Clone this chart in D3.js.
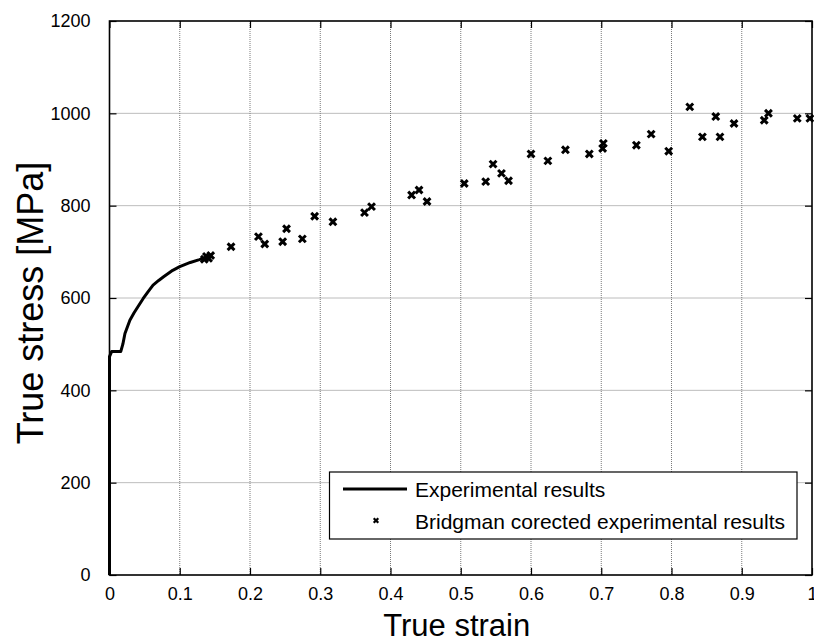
<!DOCTYPE html>
<html><head><meta charset="utf-8">
<script src="https://cdn.jsdelivr.net/npm/d3@7"></script>
<style>body{margin:0;background:#fff}svg{display:block}text{font-family:"Liberation Sans",Arial,sans-serif;fill:#000}</style>
</head><body><svg id="c" width="814" height="642"></svg>
<script>
const xTicks=[0,0.1,0.2,0.3,0.4,0.5,0.6,0.7,0.8,0.9,1];
const yTicks=[0,200,400,600,800,1000,1200];
const curveStrain=[0,0,0.003,0.016,0.019,0.022,0.029,0.035,0.040,0.048,0.055,0.062,0.070,0.077,0.090,0.100,0.115,0.128,0.134,0.140];
const curveStress=[0,473,484,484,500,523,552,568,580,599,614,628,638,646,660,668,677,683,686,690];
const ptStrain=[0.135,0.138,0.141,0.144,0.173,0.212,0.221,0.2465,0.252,0.2745,0.292,0.318,0.363,0.373,0.430,0.4406,0.452,0.505,0.5355,0.546,0.558,0.568,0.600,0.624,0.649,0.683,0.702,0.703,0.750,0.771,0.796,0.826,0.844,0.863,0.869,0.889,0.932,0.938,0.979,0.997];
const ptStress=[684,690,686,692,711,733,717,722,750,728,777,765,785,798,823,834,809,848,852,890,870,854,912,897,921,912,924,935,931,955,918,1014,949,993,949,978,985,1000,989,989];

const svg=d3.select("#c");
const L=109.5,R=812,T=21,B=575;
const x=d3.scaleLinear().domain([0,1]).range([L,R]);
const y=d3.scaleLinear().domain([0,1200]).range([B,T]);
const FF="Liberation Sans, Arial, sans-serif";

// grid
const g=svg.append("g");
g.selectAll(".gx").data(xTicks.slice(1,-1)).join("line").attr("x1",d=>x(d)).attr("x2",d=>x(d)).attr("y1",T).attr("y2",B)
 .attr("stroke","#7a7a7a").attr("stroke-dasharray","1,1").attr("stroke-width",1);
g.selectAll(".gy").data(yTicks.slice(1,-1)).join("line").attr("y1",d=>y(d)).attr("y2",d=>y(d)).attr("x1",L).attr("x2",R)
 .attr("stroke","#7a7a7a").attr("stroke-dasharray","1,1").attr("stroke-width",1);

// axes (inward ticks, MATLAB style)
const tl=7;
const ax=svg.append("g");
ax.append("g").attr("transform",`translate(0,${B})`).call(d3.axisBottom(x).tickValues(xTicks).tickFormat(d3.format("~g")).tickSize(-tl).tickPadding(12))
 .call(s=>{s.select(".domain").remove();s.selectAll("text").attr("font-size",18).attr("font-family",FF);});
ax.append("g").attr("transform",`translate(0,${T})`).call(d3.axisTop(x).tickValues(xTicks).tickFormat("").tickSize(-tl))
 .call(s=>s.select(".domain").remove());
ax.append("g").attr("transform",`translate(${L},0)`).call(d3.axisLeft(y).tickValues(yTicks).tickFormat(d3.format("d")).tickSize(-tl).tickPadding(19))
 .call(s=>{s.select(".domain").remove();s.selectAll("text").attr("font-size",18).attr("font-family",FF);});
ax.append("g").attr("transform",`translate(${R},0)`).call(d3.axisRight(y).tickValues(yTicks).tickFormat("").tickSize(-tl))
 .call(s=>s.select(".domain").remove());
ax.selectAll(".tick line").attr("stroke","#000").attr("stroke-width",1.2);
svg.append("rect").attr("x",L).attr("y",T).attr("width",R-L).attr("height",B-T).attr("fill","none").attr("stroke","#000").attr("stroke-width",1.6);

// curve
const curve=curveStrain.map((s,i)=>[s,curveStress[i]]);
svg.append("path").datum(curve).attr("d",d3.line().x(d=>x(d[0])).y(d=>y(d[1]))).attr("fill","none").attr("stroke","#000").attr("stroke-width",3).attr("stroke-linejoin","round");

// markers
const pts=ptStrain.map((s,i)=>[s,ptStress[i]]);
function xmark(sel,r,w){sel.append("path").attr("d",`M${-r},${-r}L${r},${r}M${-r},${r}L${r},${-r}`).attr("stroke","#000").attr("stroke-width",w).attr("fill","none");}
svg.append("g").selectAll("g").data(pts).join("g").attr("transform",d=>`translate(${x(d[0])},${y(d[1])})`).each(function(){xmark(d3.select(this),3.4,3);});

// legend
const lg=svg.append("g");
lg.append("rect").attr("x",329.5).attr("y",472).attr("width",467.5).attr("height",67).attr("fill","#fff").attr("stroke","#000").attr("stroke-width",1.2);
lg.append("line").attr("x1",343).attr("x2",407).attr("y1",489).attr("y2",489).attr("stroke","#000").attr("stroke-width",3);
lg.append("text").attr("x",415).attr("y",497).attr("font-size",21).text("Experimental results");
lg.append("g").attr("transform","translate(376,520.5)").call(s=>xmark(s,2.3,2.2));
lg.append("text").attr("x",415).attr("y",528.5).attr("font-size",21).text("Bridgman corected experimental results");

// axis labels
svg.append("text").attr("x",(L+R)/2-4).attr("y",636).attr("text-anchor","middle").attr("font-size",31).text("True strain");
svg.append("text").attr("transform",`translate(43,303) rotate(-90)`).attr("text-anchor","middle").attr("font-size",36).text("True stress [MPa]");
</script></body></html>
